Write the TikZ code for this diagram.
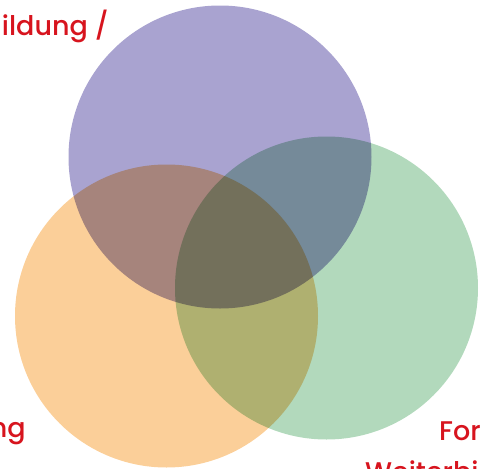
\documentclass[tikz,border=0pt]{standalone}
\usepackage{fontspec}
\setmainfont{Poppins}
\newfontfamily\lblfont{Poppins Medium}
\usepackage{xcolor}
\usepackage{tikz}

\definecolor{setpurple}{HTML}{A9A3D0}
\definecolor{setorange}{HTML}{FBCF99}
\definecolor{setgreen}{HTML}{B2D9BC}
\definecolor{labelred}{HTML}{D7141E}

\tikzset{
  set/.style={circle, minimum size=303pt, inner sep=0pt},
  lbl/.style={text=labelred, font=\lblfont\fontsize{27}{41}\selectfont, inner sep=0pt}
}

\begin{document}
\begin{tikzpicture}[x=1pt, y=-1pt]
  \useasboundingbox (0,0) rectangle (480,469);
  \clip (0,0) rectangle (480,469);

  \begin{scope}[blend group=multiply]
    \node[set, fill=setpurple]  (ausb)  at (220,157)   {};
    \node[set, fill=setgreen]   (weit)  at (326.5,288) {};
    \node[set, fill=setorange]  (forsch) at (166.5,316) {};
  \end{scope}

  \node[lbl, anchor=base east]  (ltop)  at (109,35)  {ildung /};
  \node[lbl, anchor=base east]  (lleft) at (26,437)  {ng};
  \node[lbl, anchor=base west]  (lright) at (439,440) {For};
  \node[lbl, anchor=base west]  (lright2) at (365,481) {Weiterbi};
\end{tikzpicture}
\end{document}
